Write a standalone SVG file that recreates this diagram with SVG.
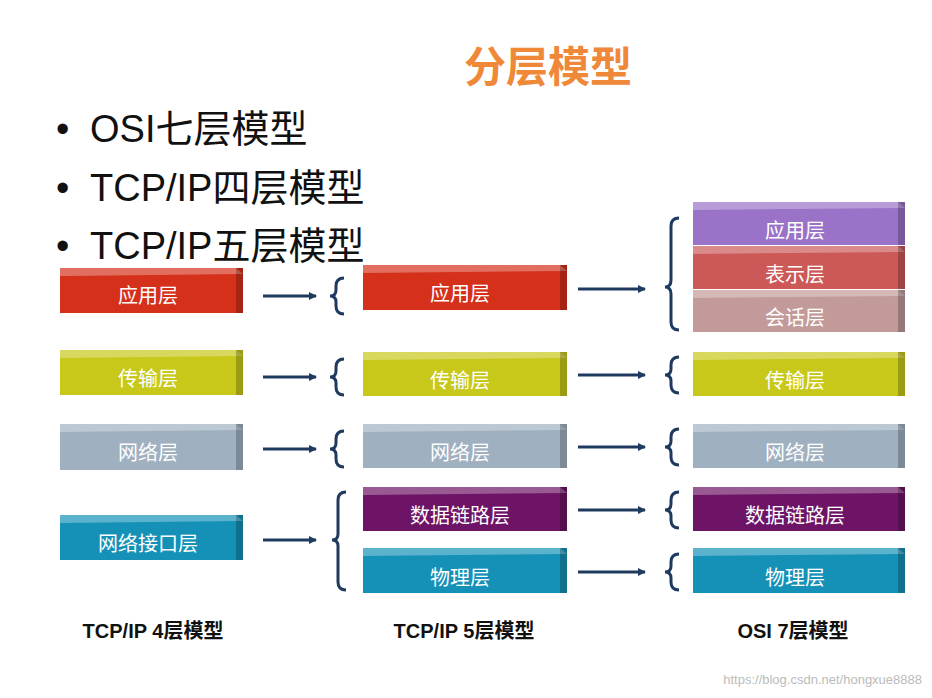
<svg xmlns="http://www.w3.org/2000/svg" width="932" height="698" viewBox="0 0 932 698">
<style>
.t{font-family:"Noto Sans CJK SC","Liberation Sans",sans-serif;font-size:20px;fill:#fff;text-anchor:middle}
.b{font-family:"Liberation Sans","Noto Sans CJK SC",sans-serif;font-size:38px;fill:#111}
.l{font-family:"Liberation Sans","Noto Sans CJK SC",sans-serif;font-size:20px;font-weight:bold;fill:#111;text-anchor:middle}
.hi{fill:#fff;opacity:.3}
.sh{fill:#000;opacity:.22}
.c{stroke:#1f3a5f;stroke-width:3;fill:none}
</style>
<defs>
<marker id="ah" markerWidth="8" markerHeight="8" refX="7" refY="4" orient="auto" markerUnits="userSpaceOnUse"><path d="M0,0L8,4L0,8z" fill="#1f3a5f"/></marker>
</defs>
<rect width="932" height="698" fill="#fff"/>
<text x="548" y="82" font-family="Noto Sans CJK SC,sans-serif" font-size="42" font-weight="bold" fill="#f0883a" text-anchor="middle">分层模型</text>
<g id="bullets">
<text class="b" x="56" y="142">•</text><text class="b" x="90" y="142">OSI七层模型</text>
<text class="b" x="56" y="201">•</text><text class="b" x="90" y="201">TCP/IP四层模型</text>
<text class="b" x="56" y="259">•</text><text class="b" x="90" y="259">TCP/IP五层模型</text>
</g>
<g id="c1a"><rect x="60" y="268" width="183" height="45" fill="#d4301a"/><polygon class="hi" points="60,268 236,268 243,274 67,276 60,276"/><rect class="sh" x="236" y="268" width="7" height="45"/><text class="t" x="148" y="303">应用层</text></g>
<g id="c1b"><rect x="60" y="350" width="183" height="45" fill="#c8c81a"/><polygon class="hi" points="60,350 236,350 243,356 60,358"/><rect class="sh" x="236" y="350" width="7" height="45"/><text class="t" x="148" y="386">传输层</text></g>
<g id="c1c"><rect x="60" y="424" width="183" height="46" fill="#9fb0c0"/><polygon class="hi" points="60,424 236,424 243,430 60,432"/><rect class="sh" x="236" y="424" width="7" height="46"/><text class="t" x="148" y="460">网络层</text></g>
<g id="c1d"><rect x="60" y="515" width="183" height="45" fill="#1591b8"/><polygon class="hi" points="60,515 236,515 243,521 60,523"/><rect class="sh" x="236" y="515" width="7" height="45"/><text class="t" x="148" y="551">网络接口层</text></g>

<g id="c2a"><rect x="363" y="265" width="204" height="45" fill="#d4301a"/><polygon class="hi" points="363,265 560,265 567,271 363,273"/><rect class="sh" x="560" y="265" width="7" height="45"/><text class="t" x="460" y="301">应用层</text></g>
<g id="c2b"><rect x="363" y="352" width="204" height="44" fill="#c8c81a"/><polygon class="hi" points="363,352 560,352 567,358 363,360"/><rect class="sh" x="560" y="352" width="7" height="44"/><text class="t" x="460" y="388">传输层</text></g>
<g id="c2c"><rect x="363" y="424" width="204" height="44" fill="#9fb0c0"/><polygon class="hi" points="363,424 560,424 567,430 363,432"/><rect class="sh" x="560" y="424" width="7" height="44"/><text class="t" x="460" y="460">网络层</text></g>
<g id="c2d"><rect x="363" y="487" width="204" height="44" fill="#6e1466"/><polygon class="hi" points="363,487 560,487 567,493 363,495"/><rect class="sh" x="560" y="487" width="7" height="44"/><text class="t" x="460" y="523">数据链路层</text></g>
<g id="c2e"><rect x="363" y="548" width="204" height="45" fill="#1591b8"/><polygon class="hi" points="363,548 560,548 567,554 363,556"/><rect class="sh" x="560" y="548" width="7" height="45"/><text class="t" x="460" y="585">物理层</text></g>

<g id="c3a"><rect x="693" y="202" width="212" height="43" fill="#9a72c8"/><polygon class="hi" points="693,202 898,202 905,208 693,210"/><rect class="sh" x="898" y="202" width="7" height="43"/><text class="t" x="795" y="238">应用层</text></g>
<g id="c3b"><rect x="693" y="246" width="212" height="43" fill="#cc5858"/><polygon class="hi" points="693,246 898,246 905,252 693,254"/><rect class="sh" x="898" y="246" width="7" height="43"/><text class="t" x="795" y="282">表示层</text></g>
<g id="c3c"><rect x="693" y="290" width="212" height="42" fill="#c29a9a"/><polygon class="hi" points="693,290 898,290 905,296 693,298"/><rect class="sh" x="898" y="290" width="7" height="42"/><text class="t" x="795" y="325">会话层</text></g>
<g id="c3d"><rect x="693" y="352" width="212" height="44" fill="#c8c81a"/><polygon class="hi" points="693,352 898,352 905,358 693,360"/><rect class="sh" x="898" y="352" width="7" height="44"/><text class="t" x="795" y="388">传输层</text></g>
<g id="c3e"><rect x="693" y="424" width="212" height="44" fill="#9fb0c0"/><polygon class="hi" points="693,424 898,424 905,430 693,432"/><rect class="sh" x="898" y="424" width="7" height="44"/><text class="t" x="795" y="460">网络层</text></g>
<g id="c3f"><rect x="693" y="487" width="212" height="44" fill="#6e1466"/><polygon class="hi" points="693,487 898,487 905,493 693,495"/><rect class="sh" x="898" y="487" width="7" height="44"/><text class="t" x="795" y="523">数据链路层</text></g>
<g id="c3g"><rect x="693" y="548" width="212" height="45" fill="#1591b8"/><polygon class="hi" points="693,548 898,548 905,554 693,556"/><rect class="sh" x="898" y="548" width="7" height="45"/><text class="t" x="795" y="585">物理层</text></g>

<g id="connectors">
<line class="c" x1="263" y1="296" x2="316" y2="296" marker-end="url(#ah)"/>
<line class="c" x1="263" y1="377" x2="316" y2="377" marker-end="url(#ah)"/>
<line class="c" x1="263" y1="449" x2="316" y2="449" marker-end="url(#ah)"/>
<line class="c" x1="263" y1="540" x2="316" y2="540" marker-end="url(#ah)"/>
<line class="c" x1="578" y1="289" x2="645" y2="289" marker-end="url(#ah)"/>
<line class="c" x1="578" y1="375" x2="645" y2="375" marker-end="url(#ah)"/>
<line class="c" x1="578" y1="447" x2="645" y2="447" marker-end="url(#ah)"/>
<line class="c" x1="578" y1="510" x2="645" y2="510" marker-end="url(#ah)"/>
<line class="c" x1="578" y1="572" x2="645" y2="572" marker-end="url(#ah)"/>
<path class="c" d="M344,278 Q336,278 336,286 V290 Q336,296 330,296 Q336,296 336,302 V306 Q336,314 344,314"/>
<path class="c" d="M344,359 Q336,359 336,367 V371 Q336,377 330,377 Q336,377 336,383 V387 Q336,395 344,395"/>
<path class="c" d="M344,431 Q336,431 336,439 V443 Q336,449 330,449 Q336,449 336,455 V459 Q336,467 344,467"/>
<path class="c" d="M346,492 Q338,492 338,500 V534 Q338,540 332,540 Q338,540 338,546 V582 Q338,590 346,590"/>
<path class="c" d="M679,218 Q671,218 671,226 V280 Q671,287 665,287 Q671,287 671,294 V322 Q671,330 679,330"/>
<path class="c" d="M679,357 Q671,357 671,365 V369 Q671,375 665,375 Q671,375 671,381 V385 Q671,393 679,393"/>
<path class="c" d="M679,429 Q671,429 671,437 V441 Q671,447 665,447 Q671,447 671,453 V457 Q671,465 679,465"/>
<path class="c" d="M679,492 Q671,492 671,500 V504 Q671,510 665,510 Q671,510 671,516 V520 Q671,528 679,528"/>
<path class="c" d="M679,554 Q671,554 671,562 V566 Q671,572 665,572 Q671,572 671,578 V582 Q671,590 679,590"/>
</g>
<text class="l" x="153" y="638">TCP/IP 4层模型</text>
<text class="l" x="464" y="638">TCP/IP 5层模型</text>
<text class="l" x="793" y="638">OSI 7层模型</text>
<text x="922" y="684" font-family="Liberation Sans,sans-serif" font-size="13" fill="#bbb" text-anchor="end">https://blog.csdn.net/hongxue8888</text>
</svg>
